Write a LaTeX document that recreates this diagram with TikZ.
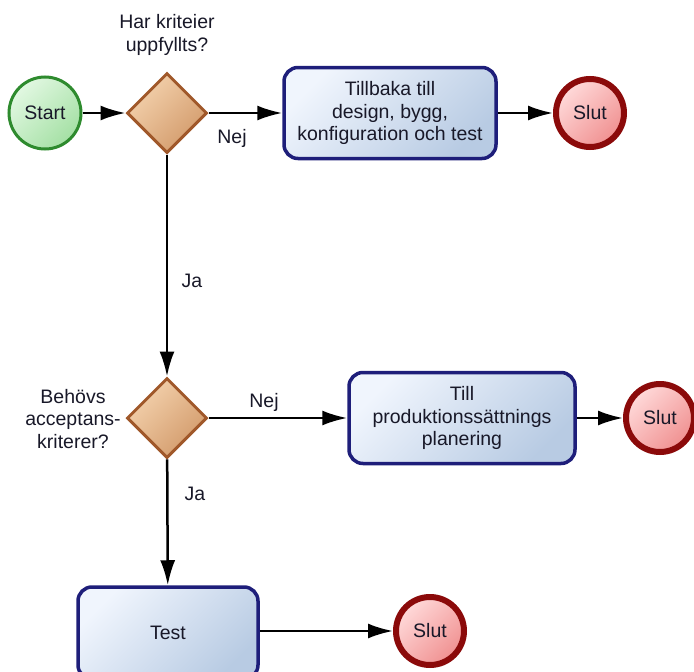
\documentclass[tikz,border=0pt]{standalone}
\usepackage{fontspec}
\setmainfont{Liberation Sans}
\usetikzlibrary{shapes.geometric,arrows.meta}

\definecolor{startline}{HTML}{2E8B2E}
\definecolor{startlight}{HTML}{E2F8E2}
\definecolor{startdark}{HTML}{A4E0A4}
\definecolor{decline}{HTML}{A0582A}
\definecolor{declight}{HTML}{F4D2AE}
\definecolor{decdark}{HTML}{D29A6A}
\definecolor{boxline}{HTML}{1E1E7A}
\definecolor{boxlight}{HTML}{F0F5FD}
\definecolor{boxdark}{HTML}{B8CBE3}
\definecolor{slutline}{HTML}{8B0A0A}
\definecolor{slutlight}{HTML}{FFDADA}
\definecolor{slutdark}{HTML}{F09090}
\definecolor{txt}{HTML}{181828}

\tikzset{
	txtfont/.style={font=\fontsize{19.5}{22.5}\selectfont, text=txt},
	startnode/.style={circle, draw=startline, line width=3pt, top color=startlight, bottom color=startdark, shading angle=45, minimum size=72pt, inner sep=0pt, txtfont},
	slutnode/.style={circle, draw=slutline, line width=6pt, top color=slutlight, bottom color=slutdark, shading angle=45, minimum size=68pt, inner sep=0pt, txtfont},
	decision/.style={diamond, aspect=1, draw=decline, line width=3pt, top color=declight, bottom color=decdark, shading angle=45, minimum width=80pt, minimum height=80pt, inner sep=0pt},
	taskbox/.style={rectangle, rounded corners=14pt, draw=boxline, line width=3.5pt, top color=boxlight, bottom color=boxdark, shading angle=45, minimum height=91pt, align=center, inner sep=0pt, txtfont},
	lbl/.style={align=center, inner sep=0pt, txtfont},
	arr/.style={line width=2.5pt, -{Latex[length=25pt,width=15pt]}},
}

\begin{document}
\begin{tikzpicture}[x=1pt, y=-1pt]
	\useasboundingbox (0,0) rectangle (694,672);

	\node[startnode] (start) at (45,113) {Start};
	\node[decision] (krit) at (167,113) {};
	\node[lbl] (kritq) at (167,35) {Har kriteier\\uppfyllts?};
	\node[taskbox, minimum width=212pt] (tillbaka) at (390,113) {Tillbaka till\\design, bygg,\\konfiguration och test};
	\node[slutnode] (slut1) at (590,113) {Slut};

	\node[decision] (accept) at (167,418) {};
	\node[lbl] (acceptq) at (73,419) {Behövs\\acceptans-\\kriterer?};
	\node[taskbox, minimum width=226pt] (prod) at (462,418) {Till\\produktionssättnings\\planering};
	\node[slutnode] (slut2) at (660,418) {Slut};

	\node[taskbox, minimum width=180pt, minimum height=92pt] (test) at (168,633) {Test};
	\node[slutnode] (slut3) at (430,631) {Slut};


	%LINES

	\draw[arr] (start) -- (krit);
	\draw[arr] (krit) -- (tillbaka);
	\draw[arr] (tillbaka) -- (slut1);
	\draw[arr] (krit) -- (accept);
	\draw[arr] (accept) -- (prod);
	\draw[arr] (prod) -- (slut2);
	\draw[arr] (accept) -- (test);
	\draw[arr] (test.east |- slut3) -- (slut3);

	\node[lbl] (nej1) at (232,138) {Nej};
	\node[lbl] (ja1) at (192,281) {Ja};
	\node[lbl] (nej2) at (264,402) {Nej};
	\node[lbl] (ja2) at (195,494) {Ja};
\end{tikzpicture}
\end{document}
